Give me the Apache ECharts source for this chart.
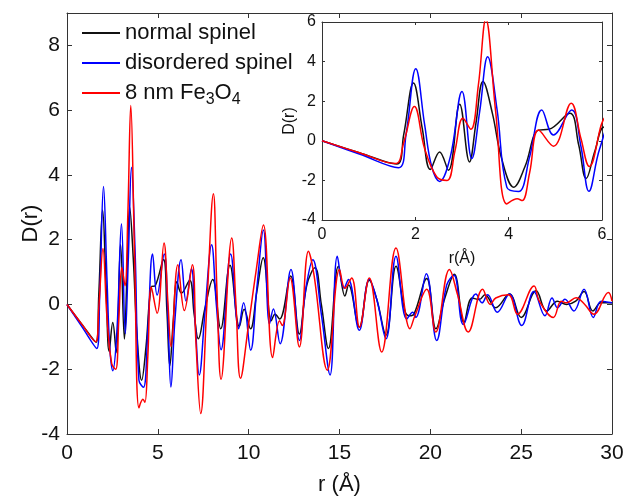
<!DOCTYPE html>
<html><head><meta charset="utf-8">
<script src="https://cdn.jsdelivr.net/npm/echarts@6/dist/echarts.min.js"></script>
<style>html,body{margin:0;padding:0;background:#fff}#c{width:628px;height:501px}</style>
</head><body><div id="c"></div>
<script>
const seriesNames = ['normal spinel', 'disordered spinel', '8 nm Fe3O4'];

// [r (Å), D(r)]
const normalSpinel = [[0,0],[0.8,-0.6],[1.6,-1.17],[1.75,0.3],[1.96,2.92],[2.15,0.6],[2.32,-1.45],[2.52,-0.56],[2.71,-1.49],[2.95,1.85],[3.16,-1.07],[3.3,0.9],[3.45,3.0],[3.65,1.4],[3.85,-0.9],[4.11,-2.34],[4.35,-1.3],[4.64,0.54],[4.86,0.58],[5.31,1.39],[5.5,-0.2],[5.66,-1.9],[5.85,-0.5],[6.05,0.7],[6.3,0.35],[6.75,0.75],[7.0,-0.3],[7.23,-1.06],[7.6,-0.1],[8.02,0.77],[8.46,-0.75],[8.97,1.21],[9.49,-0.68],[9.75,-0.15],[10.1,-0.75],[10.45,0.4],[10.8,1.44],[11.25,-0.5],[11.45,-0.3],[11.7,-0.45],[12.31,0.88],[12.79,-0.91],[13.2,0.6],[13.65,1.13],[14.0,0.0],[14.39,-1.36],[14.94,1.18],[15.3,0.26],[15.5,0.6],[16.09,-0.7],[16.64,0.75],[17.05,0.16],[17.56,-0.95],[18.11,1.18],[18.6,-0.2],[18.85,-0.35],[19.1,-0.3],[19.8,0.8],[20.31,-0.75],[20.8,0.2],[21.32,0.93],[21.85,-0.55],[22.3,0.2],[22.7,0.15],[23.0,0.3],[23.6,-0.1],[24.35,0.32],[25.0,-0.4],[25.82,0.42],[26.4,-0.2],[27.0,0.1],[27.5,0.0],[28.0,0.1],[28.46,0.4],[28.95,-0.2],[29.4,0.05],[30,0.05]];

const disorderedSpinel = [[0,0],[0.8,-0.67],[1.64,-1.36],[1.8,0.3],[2.01,3.64],[2.2,0.8],[2.35,-1.3],[2.52,-2.05],[2.75,-0.8],[3.0,2.49],[3.21,-0.9],[3.38,1.5],[3.55,4.24],[3.75,1.6],[3.96,-2.34],[4.21,-2.56],[4.45,-0.8],[4.71,1.56],[4.96,0.29],[5.35,1.56],[5.55,-0.3],[5.72,-2.55],[5.95,-0.4],[6.28,1.38],[6.55,0.11],[6.85,1.1],[7.05,-0.5],[7.28,-2.18],[7.6,-0.2],[7.96,1.84],[8.22,0.0],[8.48,-1.4],[9.01,1.56],[9.45,-0.75],[9.72,0.05],[10.11,-1.41],[10.45,0.5],[10.81,2.3],[11.15,-0.6],[11.36,-0.14],[11.73,-1.21],[12.33,1.08],[12.79,-1.11],[13.15,0.5],[13.53,1.38],[14.0,-0.3],[14.48,-2.18],[14.88,1.49],[15.25,0.5],[15.49,0.77],[16.09,-0.8],[16.64,0.78],[17.05,0.16],[17.56,-1.06],[18.11,1.49],[18.7,-0.45],[19.03,-0.24],[19.2,-0.4],[19.78,0.95],[20.35,-1.11],[20.9,0.6],[21.3,0.9],[21.82,-0.62],[22.51,0.32],[22.85,0.05],[23.15,0.3],[23.69,-0.24],[24.35,0.32],[25.03,-0.65],[25.7,0.4],[26.31,-0.35],[26.7,0.2],[27.0,-0.1],[27.41,0.16],[27.9,-0.2],[28.46,0.47],[28.97,-0.4],[29.4,0.1],[30,0.05]];

const fe3o4_8nm = [[0,0],[0.8,-0.6],[1.57,-1.15],[1.75,-0.1],[1.98,1.73],[2.2,-0.4],[2.46,-1.83],[2.68,-2.0],[2.85,-0.5],[3.02,1.14],[3.19,0.58],[3.35,2.8],[3.51,6.14],[3.72,1.5],[3.96,-3.19],[4.18,-2.93],[4.29,-3.02],[4.45,-1.6],[4.64,0.54],[4.96,-0.27],[5.34,1.9],[5.55,0.1],[5.73,-1.3],[6.1,1.23],[6.46,-0.19],[6.9,1.23],[7.1,-1.2],[7.36,-3.37],[7.7,0.0],[8.06,3.42],[8.25,0.5],[8.48,-2.31],[9.07,2.05],[9.3,0.0],[9.55,-2.28],[10.0,-0.6],[10.4,1.0],[10.81,2.45],[11.32,-1.64],[11.7,-0.5],[11.85,-0.65],[12.28,0.82],[12.79,-1.31],[13.29,1.64],[13.6,0.9],[14.33,-2.03],[15.0,1.08],[15.3,0.5],[15.67,0.82],[16.1,-0.7],[16.64,0.82],[17.32,-1.47],[18.11,1.74],[18.88,-0.75],[19.15,-0.35],[19.8,0.47],[20.3,-0.85],[21.05,1.08],[21.5,0.3],[22.09,-0.85],[22.88,0.47],[23.3,0.0],[23.6,0.2],[24.3,0.3],[24.8,-0.3],[25.71,0.57],[26.0,0.1],[26.77,-0.4],[27.2,0.1],[27.5,0.05],[28.02,0.21],[28.5,0.0],[29.0,-0.3],[29.8,0.37],[30,0.1]];

const mainXRange = [0, 30, 5];
const mainYRange = [-4, 9, 2];
const insetXRange = [0, 6, 2];
const insetYRange = [-4, 6, 2];

const colors = ['#111111', '#0000ff', '#ff0000'];
const datasets = [normalSpinel, disorderedSpinel, fe3o4_8nm];
const FONT = 'Liberation Sans';
const AX = '#333';

function xAx(grid, range, pos, showLabel, fs, tickLen, name, nameGap, nameFs) {
  return {
    type: 'value', gridIndex: grid, position: pos, min: range[0], max: range[1], interval: range[2],
    z: grid === 1 ? 6 : 0,
    axisLine: {show: true, onZero: false, lineStyle: {color: AX, width: 1}},
    axisTick: {show: true, inside: true, length: tickLen, lineStyle: {color: AX}},
    axisLabel: {show: showLabel, fontSize: fs, color: '#111', fontFamily: FONT, margin: grid === 0 ? 9 : 7},
    splitLine: {show: false},
    name: name || '', nameLocation: 'middle', nameGap: nameGap || 0, nameMoveOverlap: false,
    nameTextStyle: {fontSize: nameFs || fs, color: '#111', fontFamily: FONT}
  };
}
function yAx(grid, range, pos, showLabel, fs, tickLen, name, nameGap, nameFs) {
  return {
    type: 'value', gridIndex: grid, position: pos, min: range[0], max: range[1], interval: range[2],
    z: grid === 1 ? 6 : 0,
    axisLine: {show: true, onZero: false, lineStyle: {color: AX, width: 1}},
    axisTick: {show: true, inside: true, length: tickLen, lineStyle: {color: AX}},
    axisLabel: {show: showLabel, fontSize: fs, color: '#111', fontFamily: FONT, margin: grid === 0 ? 7 : 6, showMaxLabel: grid === 1},
    splitLine: {show: false},
    name: name || '', nameLocation: 'middle', nameGap: nameGap || 0, nameRotate: 90, nameMoveOverlap: false,
    nameTextStyle: {fontSize: nameFs || fs, color: '#111', fontFamily: FONT}
  };
}

const series = [];
datasets.forEach((d, i) => {
  series.push({name: seriesNames[i], type: 'line', xAxisIndex: 0, yAxisIndex: 0, data: d,
    symbol: 'none', smooth: 0.4, lineStyle: {color: colors[i], width: 1.5}, itemStyle: {color: colors[i]}, z: 2 + i * 0.1});
});
datasets.forEach((d, i) => {
  series.push({name: seriesNames[i], type: 'line', xAxisIndex: 2, yAxisIndex: 2, data: d,
    symbol: 'none', smooth: 0.4, lineStyle: {color: colors[i], width: 1.5}, itemStyle: {color: colors[i]}, z: 7 + i * 0.1, clip: true});
});

const chart = echarts.init(document.getElementById('c'), null, {renderer: 'canvas'});
chart.setOption({
  backgroundColor: '#fff',
  animation: false,
  textStyle: {fontFamily: FONT},
  grid: [
    {left: 67, right: 16, top: 13, bottom: 63, show: false},
    {left: 322, right: 26, top: 22, bottom: 281, show: true, backgroundColor: '#fff', borderWidth: 0, z: 5}
  ],
  xAxis: [
    xAx(0, mainXRange, 'bottom', true, 21, 5, 'r (Å)', 40, 22),
    xAx(0, mainXRange, 'top', false, 21, 5),
    xAx(1, insetXRange, 'bottom', true, 16, 3, 'r(Å)', 31),
    xAx(1, insetXRange, 'top', false, 16, 3)
  ],
  yAxis: [
    yAx(0, mainYRange, 'left', true, 21, 5, 'D(r)', 25, 22),
    yAx(0, mainYRange, 'right', false, 21, 5),
    yAx(1, insetYRange, 'left', true, 16, 3, 'D(r)', 24),
    yAx(1, insetYRange, 'right', false, 16, 3)
  ],
  legend: {
    data: seriesNames, orient: 'vertical', left: 82, top: 18, padding: 0,
    icon: 'rect', itemWidth: 38, itemHeight: 2, itemGap: 0,
    textStyle: {fontSize: 22, color: '#111', fontFamily: FONT, lineHeight: 30,
      rich: {
        n: {fontSize: 22, fontFamily: FONT, color: '#111', lineHeight: 30},
        s: {fontSize: 16, fontFamily: FONT, color: '#111', lineHeight: 10, padding: [14, 0, 0, 0], verticalAlign: 'bottom'}
      }},
    formatter: n => n === '8 nm Fe3O4' ? '{n|8 nm Fe}{s|3}{n|O}{s|4}' : n
  },
  series: series
});
</script>
</body></html>
